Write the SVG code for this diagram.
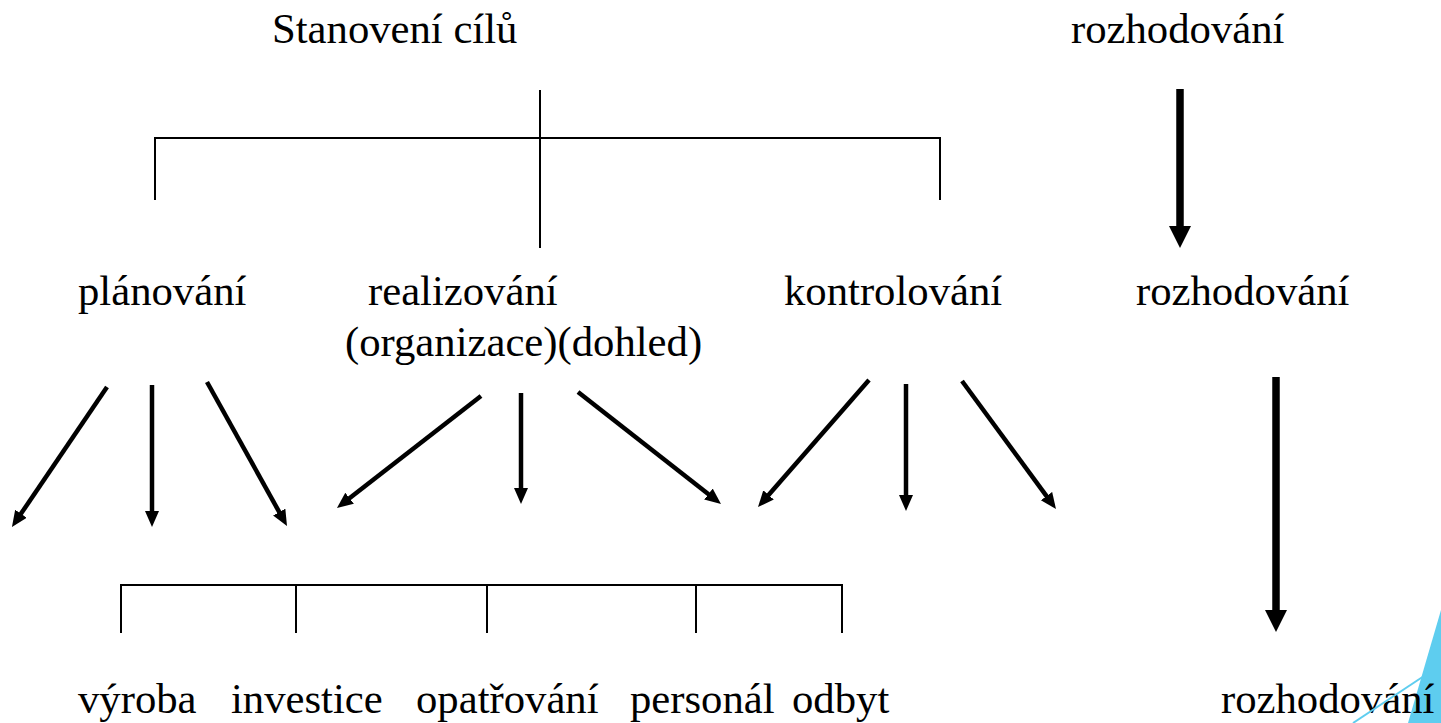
<svg xmlns="http://www.w3.org/2000/svg" width="1441" height="723" viewBox="0 0 1441 723">
<style>
text{font-family:"Liberation Serif","Times New Roman",serif;font-size:42.7px;fill:#000}
.thin{stroke:#000;stroke-width:2;fill:none}
.arr{stroke:#000;stroke-width:4.5;fill:none;marker-end:url(#ah)}
.big{stroke:#000;stroke-width:7.5;fill:none;marker-end:url(#ahb)}
</style>
<defs>
<marker id="ah" markerUnits="userSpaceOnUse" markerWidth="17" markerHeight="15" refX="1" refY="7" orient="auto"><path d="M0,0 L16,7 L0,14 z" fill="#000"/></marker>
<marker id="ahb" markerUnits="userSpaceOnUse" markerWidth="23" markerHeight="23" refX="1" refY="11" orient="auto"><path d="M0,0 L22,11 L0,22 z" fill="#000"/></marker>
</defs>
<rect width="1441" height="723" fill="#fff"/>
<polygon points="1441,610 1408,723 1441,723" fill="#5ECDEF"/>
<g id="n-stanoveni"><text x="272" y="43" font-family="Liberation Serif, serif">Stanovení cílů</text></g>
<g id="n-rozhodovani1"><text x="1071" y="43" font-family="Liberation Serif, serif">rozhodování</text></g>
<g id="n-planovani"><text x="78" y="305" font-family="Liberation Serif, serif">plánování</text></g>
<g id="n-realizovani"><text x="368" y="305" font-family="Liberation Serif, serif">realizování</text><text x="345" y="356" font-family="Liberation Serif, serif">(organizace)(dohled)</text></g>
<g id="n-kontrolovani"><text x="784" y="305" font-family="Liberation Serif, serif">kontrolování</text></g>
<g id="n-rozhodovani2"><text x="1136" y="305" font-family="Liberation Serif, serif">rozhodování</text></g>
<g id="n-vyroba"><text x="78" y="713" font-family="Liberation Serif, serif">výroba</text></g>
<g id="n-investice"><text x="231" y="713" font-family="Liberation Serif, serif">investice</text></g>
<g id="n-opatrovani"><text x="416" y="713" font-family="Liberation Serif, serif">opatřování</text></g>
<g id="n-personal"><text x="630" y="713" font-family="Liberation Serif, serif">personál</text></g>
<g id="n-odbyt"><text x="792" y="713" font-family="Liberation Serif, serif">odbyt</text></g>
<g id="n-rozhodovani3"><text x="1221" y="713" font-family="Liberation Serif, serif">rozhodování</text></g>
<g id="connectors">
<path class="thin" d="M155,200 V138 H940 V200 M540,90 V248"/>
<path class="thin" d="M121,633 V585 H842 V633 M296,585 V633 M487,585 V633 M696,585 V633"/>
<line class="arr" x1="107" y1="387" x2="20.4" y2="514.6"/>
<line class="arr" x1="152" y1="385" x2="152" y2="512"/>
<line class="arr" x1="207" y1="382" x2="279.7" y2="512.9"/>
<line class="arr" x1="481" y1="396" x2="348.8" y2="498.8"/>
<line class="arr" x1="521" y1="393" x2="521" y2="489"/>
<line class="arr" x1="578" y1="392" x2="709.2" y2="494.7"/>
<line class="arr" x1="869" y1="380" x2="767.9" y2="495.7"/>
<line class="arr" x1="906" y1="384" x2="906" y2="496"/>
<line class="arr" x1="962" y1="381" x2="1047.1" y2="496.9"/>
<line class="big" x1="1180" y1="89" x2="1180" y2="227"/>
<line class="big" x1="1276" y1="377" x2="1276" y2="611"/>
</g>
<line x1="1353" y1="723" x2="1424" y2="676" stroke="#5ECDEF" stroke-width="2"/>
</svg>
